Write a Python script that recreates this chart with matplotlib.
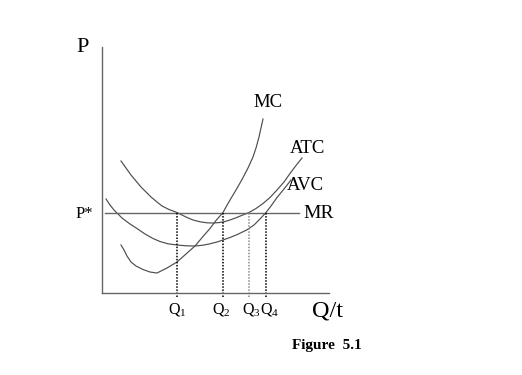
import matplotlib
matplotlib.use("Agg")
import matplotlib.pyplot as plt

plt.rcParams['font.family'] = ['Liberation Serif', 'DejaVu Serif']
plt.rcParams['mathtext.fontset'] = 'custom'
plt.rcParams['mathtext.rm'] = 'Liberation Serif'
plt.rcParams['mathtext.it'] = 'Liberation Serif:italic'

# ---- data (quantity q, price p in arbitrary units) ----
mc_q = [19, 22, 25, 29, 34, 41, 48, 55, 65, 75, 84, 93, 101, 108, 114, 121, 124, 128,
        134, 140, 146, 151, 154, 157, 159, 161]
mc_p = [48, 43, 37, 31, 27, 23.5, 21, 20, 25, 31, 39, 47, 56.5, 64.5, 72.5, 80.5, 86, 93,
        103, 113.5, 125, 136, 145, 156, 165, 174]

atc_q = [19, 24, 29, 34, 39, 44, 49, 55, 60, 67, 75, 80, 85, 91, 98, 105, 111, 117,
         122, 128, 134, 140, 147, 154, 161, 168, 175, 182, 188, 194, 200]
atc_p = [132, 125, 118, 112, 106, 101, 96, 91, 87, 83.5, 80.5, 78, 75.5, 73, 71.2, 70.2,
         70, 70.4, 71.2, 73, 75.2, 77.7, 80.5, 84.5, 89.5, 95.5, 103, 111, 119.5, 127.5, 135]

avc_q = [4, 8, 12, 15, 20, 28, 35, 43, 51, 58, 66, 75, 84, 93, 101, 108, 115, 121,
         128, 136, 145, 152, 158, 164, 169, 175, 182, 189]
avc_p = [94, 88, 83, 80, 75, 69, 64.5, 59, 54.5, 51.5, 49.2, 48, 47.2, 47, 47.8, 49.2, 51, 53,
         55.5, 58.8, 63.2, 68, 74, 80.5, 87, 95.5, 104, 113]

mr_price = 80.5
mr_q_range = [3, 197]

q_marks = [75, 121, 147, 164]
q_labels = [r'Q$_1$', r'Q$_2$', r'Q$_3$', r'Q$_4$']
q_colors = ['black', 'black', '#8a8a8a', 'black']

W, H = 522, 375
fig = plt.figure(figsize=(W / 100, H / 100), dpi=100)
fig.patch.set_facecolor('white')

def fx(x):
    return x / W

def fy(y):
    return 1 - y / H

ax = fig.add_axes([fx(102), fy(293), (329 - 102) / W, (293 - 47) / H])
ax.set_xlim(0, 227)
ax.set_ylim(0, 246)
ax.set_xticks([])
ax.set_yticks([])
for s in ['top', 'right']:
    ax.spines[s].set_visible(False)
for s in ['left', 'bottom']:
    ax.spines[s].set_color('#666666')
    ax.spines[s].set_linewidth(1.0)

curve_color = '#4d4d4d'
ax.plot(mc_q, mc_p, color=curve_color, lw=0.85, clip_on=False, solid_joinstyle='round')
ax.plot(atc_q, atc_p, color=curve_color, lw=0.85, clip_on=False, solid_joinstyle='round')
ax.plot(avc_q, avc_p, color=curve_color, lw=0.85, clip_on=False, solid_joinstyle='round')
ax.plot(mr_q_range, [mr_price, mr_price], color='#666666', lw=1.0, clip_on=False)

for q, c in zip(q_marks, q_colors):
    ax.plot([q, q], [mr_price, -4], color=c, lw=1.1, ls=(0, (1, 1)), clip_on=False)

# labels
fig.text(fx(76), fy(52), 'P', fontsize=16, ha='left', va='baseline')
fig.text(fx(76), fy(218), 'P*', fontsize=12, ha='left', va='baseline')
fig.text(fx(253), fy(107), 'MC', fontsize=13.5, ha='left', va='baseline')
fig.text(fx(290), fy(153), 'ATC', fontsize=13.5, ha='left', va='baseline')
fig.text(fx(287), fy(190), 'AVC', fontsize=13.5, ha='left', va='baseline')
fig.text(fx(303), fy(218), 'MR', fontsize=14, ha='left', va='baseline')
fig.text(fx(312), fy(317), 'Q/t', fontsize=17.5, ha='left', va='baseline')
q_left = [168, 212, 242, 260]
for xl, lab in zip(q_left, q_labels):
    fig.text(fx(xl), fy(313), lab, fontsize=11.5, ha='left', va='baseline')
fig.text(fx(292), fy(349), 'Figure  5.1', fontsize=11, fontweight='bold', ha='left', va='baseline')

fig.savefig('out.png', dpi=100, facecolor='white')
